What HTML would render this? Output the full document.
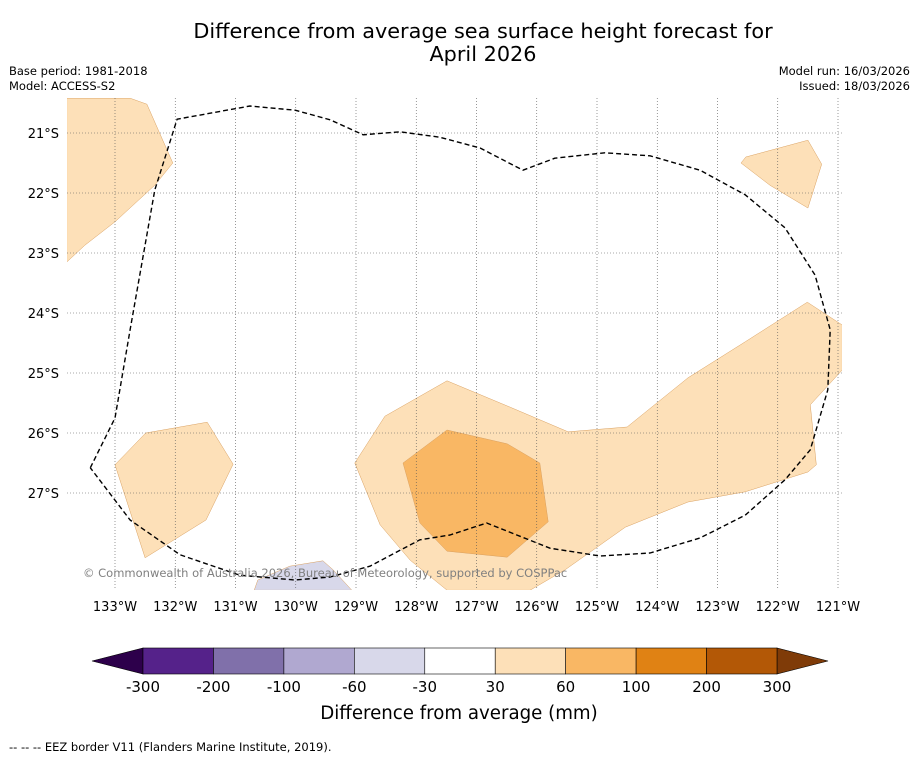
<!DOCTYPE html>
<html><head><meta charset="utf-8">
<style>
body{margin:0;background:#fff;font-family:"DejaVu Sans","Liberation Sans",sans-serif;}
#wrap{position:relative;width:919px;height:758px;overflow:hidden;background:#fff}
</style></head>
<body>
<div id="wrap">
<svg id="svg" width="919" height="758" xmlns="http://www.w3.org/2000/svg" font-family="DejaVu Sans, Liberation Sans, sans-serif">
<text x="483" y="38" text-anchor="middle" font-size="20.8" fill="#000">Difference from average sea surface height forecast for</text>
<text x="483" y="61" text-anchor="middle" font-size="20.8" fill="#000">April 2026</text>
<text x="9" y="75" font-size="11.5">Base period: 1981-2018</text>
<text x="9" y="90" font-size="11.5">Model: ACCESS-S2</text>
<text x="910" y="75" font-size="11.5" text-anchor="end">Model run: 16/03/2026</text>
<text x="910" y="90" font-size="11.5" text-anchor="end">Issued: 18/03/2026</text>
<defs><clipPath id="mapclip"><rect x="67" y="98" width="775" height="492"/></clipPath></defs>
<g id="map" clip-path="url(#mapclip)"></g>
<g id="grid"></g>
<g id="eez" clip-path="url(#mapclip)"></g>
<text x="83" y="577" font-size="11.5" fill="#808080">© Commonwealth of Australia 2026, Bureau of Meteorology, supported by COSPPac</text>
<g id="lonlabels"></g>
<g id="latlabels"></g>
<g id="cbar"></g>
<text x="459" y="719" text-anchor="middle" font-size="18.2">Difference from average (mm)</text>
<text x="9" y="751" font-size="11.5">--  --  -- EEZ border V11 (Flanders Marine Institute, 2019).</text>
</svg>
</div>
<script>
const lonTicks=[133,132,131,130,129,128,127,126,125,124,123,122,121];
const latTicks=[21,22,23,24,25,26,27];
const levels=["-300","-200","-100","-60","-30","30","60","100","200","300"];
const levelColors=["#55228a","#8070aa","#b0a8d0","#d8d8ea","#ffffff","#fde0b8","#f9b764","#e08214","#b35806"];
const underColor="#2d004b", overColor="#7f3b08";
const lightPoly=[[133.8,20.42],[132.75,20.42],[132.47,20.52],[132.04,21.5],[132.34,21.87],[133,22.48],[133.5,22.87],[133.8,23.15]];
const lightPoly2=[[122.61,21.5],[122.53,21.4],[121.5,21.12],[121.27,21.52],[121.5,22.25],[122.13,21.87]];
const lightPoly3=[[133,26.53],[132.49,26.0],[131.47,25.82],[131.04,26.52],[131.49,27.45],[132.5,28.08]];
const lightPoly4=[[129.02,26.5],[128.52,25.72],[127.49,25.13],[126.44,25.57],[125.48,25.98],[124.5,25.9],[123.49,25.08],[122.54,24.48],[121.51,23.82],[120.93,24.2],[120.93,24.95],[121.46,25.53],[121.36,26.53],[121.5,26.65],[122.54,26.98],[123.49,27.15],[124.53,27.57],[125.53,28.28],[126.11,28.62],[127.49,28.62],[128.1,28.12],[128.6,27.53]];
const orangePoly=[[128.22,26.5],[127.49,25.95],[126.49,26.18],[125.95,26.5],[125.81,27.48],[126.49,28.07],[127.49,27.97],[127.94,27.5]];
const purplePoly=[[130.69,28.62],[130.63,28.45],[130.1,28.22],[129.55,28.13],[129.38,28.28],[129.07,28.62]];
const eezLine=[[133.41,26.58],[133,25.75],[132.75,24.28],[132.34,21.95],[131.97,20.77],[130.76,20.55],[130.01,20.62],[129.43,20.78],[128.88,21.03],[128.27,20.98],[127.61,21.07],[126.94,21.25],[126.23,21.62],[125.7,21.42],[124.87,21.33],[124.12,21.38],[123.29,21.62],[122.54,22.03],[121.88,22.58],[121.38,23.37],[121.13,24.28],[121.17,25.28],[121.46,26.28],[121.88,26.78],[122.54,27.37],[123.29,27.75],[124.12,28.0],[124.95,28.05],[125.78,27.92],[126.83,27.5],[127.44,27.7],[127.94,27.78],[128.77,28.22],[129.43,28.4],[130.01,28.45],[130.93,28.37],[131.92,28.03],[132.75,27.45],[133.41,26.58]];

const NS="http://www.w3.org/2000/svg";
function X(lonW){return 115+(133-lonW)*60.25;}
function Y(latS){return 133+(latS-21)*60;}
function mk(tag,attrs,parent){const e=document.createElementNS(NS,tag);for(const k in attrs)e.setAttribute(k,attrs[k]);parent.appendChild(e);return e;}
function pts(p){return p.map(q=>X(q[0]).toFixed(1)+","+Y(q[1]).toFixed(1)).join(" ");}
const map=document.getElementById('map');
[[lightPoly,"#fde0b8","light-contour-nw"],[lightPoly2,"#fde0b8","light-contour-ne"],[lightPoly3,"#fde0b8","light-contour-w"],[lightPoly4,"#fde0b8","light-contour-main"],[orangePoly,"#f9b764","orange-contour"],[purplePoly,"#d8d8ea","purple-contour"]].forEach(a=>{
 const p=mk('polygon',{points:pts(a[0]),fill:a[1],stroke:"#d9a060","stroke-width":"0.5"},map);
 
 
});
const grid=document.getElementById('grid');
lonTicks.forEach(l=>{const ln=mk('line',{x1:X(l),x2:X(l),y1:98,y2:590,stroke:"#555","stroke-width":"0.6","stroke-dasharray":"1,2"},grid);
 
 });
latTicks.forEach(l=>{const ln=mk('line',{x1:67,x2:842,y1:Y(l),y2:Y(l),stroke:"#555","stroke-width":"0.6","stroke-dasharray":"1,2"},grid);
 
 });
const eez=document.getElementById('eez');
const pl=mk('polyline',{points:pts(eezLine),fill:"none",stroke:"#000","stroke-width":"1.4","stroke-dasharray":"5,3","stroke-linejoin":"round"},eez);


const lonG=document.getElementById('lonlabels');
lonTicks.forEach(l=>{const t=mk('text',{x:X(l),y:611,"text-anchor":"middle","font-size":"13"},lonG);t.textContent=l+"°W";
 
 });
const latG=document.getElementById('latlabels');
latTicks.forEach(l=>{const t=mk('text',{x:59,y:Y(l)+5,"text-anchor":"end","font-size":"13"},latG);t.textContent=l+"°S";
 
 });
const cb=document.getElementById('cbar');
const x0=143,x1=777,yT=648,yB=674,w=(x1-x0)/levelColors.length;
const tl=mk('polygon',{points:`92,661 ${x0},${yT} ${x0},${yB}`,fill:underColor,stroke:"#000","stroke-width":"0.6"},cb);


const tr=mk('polygon',{points:`828,661 ${x1},${yT} ${x1},${yB}`,fill:overColor,stroke:"#000","stroke-width":"0.6"},cb);


levelColors.forEach((c,i)=>{const r=mk('rect',{x:x0+i*w,y:yT,width:w,height:yB-yT,fill:c,stroke:"#000","stroke-width":"0.6"},cb);
 
 });
levels.forEach((s,i)=>{const t=mk('text',{x:x0+i*w,y:692,"text-anchor":"middle","font-size":"15"},cb);t.textContent=s;
 
 });
</script>
</body></html>
